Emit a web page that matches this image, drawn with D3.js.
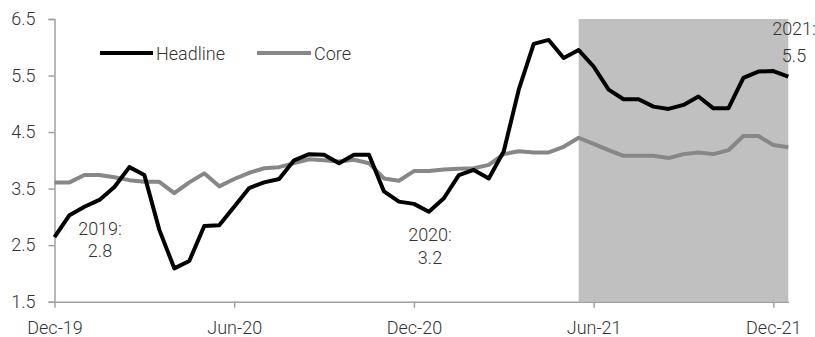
<!DOCTYPE html>
<html>
<head>
<meta charset="utf-8">
<script src="https://cdn.jsdelivr.net/npm/d3@7"></script>
<style>
  html, body { margin: 0; padding: 0; background: #fff; }
  svg { display: block; }
  text { font-family: Roboto, "Liberation Sans", sans-serif; font-weight: 300; fill: #333; }
</style>
</head>
<body>
<svg id="chart" width="815" height="337"></svg>
<script>
// Semi-monthly inflation readings, Dec-19 through Dec-21 (% y/y)
const headline = [
  2.64, 3.03, 3.18, 3.30, 3.53, 3.88, 3.74, 2.77, 2.09, 2.22,
  2.84, 2.85, 3.18, 3.51, 3.61, 3.67, 4.00, 4.11, 4.10, 3.95,
  4.10, 4.10, 3.45, 3.27, 3.23, 3.09, 3.33, 3.74, 3.83, 3.68,
  4.16, 5.25, 6.06, 6.13, 5.81, 5.95, 5.66, 5.25, 5.08, 5.08,
  4.95, 4.91, 4.98, 5.13, 4.92, 4.92, 5.46, 5.57, 5.58, 5.48
];
const core = [
  3.61, 3.61, 3.74, 3.74, 3.70, 3.65, 3.62, 3.62, 3.42, 3.61,
  3.77, 3.54, 3.67, 3.78, 3.86, 3.88, 3.95, 4.02, 4.00, 3.98,
  4.01, 3.95, 3.68, 3.64, 3.81, 3.81, 3.84, 3.85, 3.86, 3.92,
  4.11, 4.16, 4.14, 4.14, 4.24, 4.40, 4.29, 4.18, 4.08, 4.08,
  4.08, 4.04, 4.11, 4.14, 4.11, 4.18, 4.43, 4.43, 4.27, 4.23
];
const xTickIndex = [0, 12, 24, 36, 48];
const xTickLabels = ["Dec-19", "Jun-20", "Dec-20", "Jun-21", "Dec-21"];
const yTicks = [1.5, 2.5, 3.5, 4.5, 5.5, 6.5];
const shadeFrom = 35;           // forecast period starts here
const seriesNames = ["Headline", "Core"];
const annotations = [
  { line1: "2019:", line2: "2.8" },
  { line1: "2020:", line2: "3.2" },
  { line1: "2021:", line2: "5.5" }
];

const svg = d3.select("#chart");
const n = headline.length;

const x = d3.scaleLinear().domain([0, n - 1]).range([54.5, 788.3]);
const y = d3.scaleLinear().domain([1.5, 6.5]).range([301.7, 19]);

// shaded forecast region
svg.append("rect")
  .attr("x", x(shadeFrom))
  .attr("y", y(6.5))
  .attr("width", x(n - 1) - x(shadeFrom))
  .attr("height", y(1.5) - y(6.5))
  .attr("fill", "#c0c0c0");

// y axis
const yAxis = svg.append("g")
  .attr("transform", `translate(${x(0)},0)`)
  .call(d3.axisLeft(y).tickValues(yTicks).tickFormat(d3.format(".1f")).tickSize(6).tickPadding(13));
yAxis.select(".domain").attr("stroke", "#a0a0a0").attr("stroke-width", 1.5);
yAxis.selectAll(".tick line").attr("stroke", "#a0a0a0").attr("stroke-width", 1.5);
yAxis.selectAll(".tick text")
  .attr("font-size", 18).attr("fill", "#333")
  .style("font-family", "Roboto, sans-serif").style("font-weight", 300);

// x axis
const xAxis = svg.append("g")
  .attr("transform", `translate(0,${y(1.5)})`)
  .call(d3.axisBottom(x).tickValues(xTickIndex)
    .tickFormat((d, i) => xTickLabels[i]).tickSizeInner(6).tickSizeOuter(0).tickPadding(14));
xAxis.select(".domain").attr("stroke", "#a0a0a0").attr("stroke-width", 1.5);
xAxis.selectAll(".tick line").attr("stroke", "#a0a0a0").attr("stroke-width", 1.5);
xAxis.selectAll(".tick text")
  .attr("font-size", 18).attr("fill", "#333")
  .style("font-family", "Roboto, sans-serif").style("font-weight", 300);

// series lines
const line = d3.line().x((d, i) => x(i)).y(d => y(d));
svg.append("path").datum(core)
  .attr("fill", "none").attr("stroke", "#878787").attr("stroke-width", 4)
  .attr("stroke-linejoin", "round").attr("d", line);
svg.append("path").datum(headline)
  .attr("fill", "none").attr("stroke", "#000").attr("stroke-width", 4)
  .attr("stroke-linejoin", "round").attr("d", line);

// legend
const legend = [
  { name: seriesNames[0], color: "#000", x0: 100, x1: 153 },
  { name: seriesNames[1], color: "#878787", x0: 257, x1: 311 }
];
legend.forEach(l => {
  svg.append("line").attr("x1", l.x0).attr("x2", l.x1).attr("y1", 53).attr("y2", 53)
    .attr("stroke", l.color).attr("stroke-width", 4);
  svg.append("text").attr("x", l.x1 + 3).attr("y", 59.5)
    .attr("font-size", 18).text(l.name);
});

// year-average annotations
const annPos = [[100, 235, 257], [430, 241, 264], [794, 35, 62]];
annotations.forEach((a, k) => {
  const [cx, y1, y2] = annPos[k];
  svg.append("text").attr("x", cx).attr("y", y1).attr("text-anchor", "middle")
    .attr("font-size", 18).text(a.line1);
  svg.append("text").attr("x", cx).attr("y", y2).attr("text-anchor", "middle")
    .attr("font-size", 18).text(a.line2);
});
</script>
</body>
</html>
